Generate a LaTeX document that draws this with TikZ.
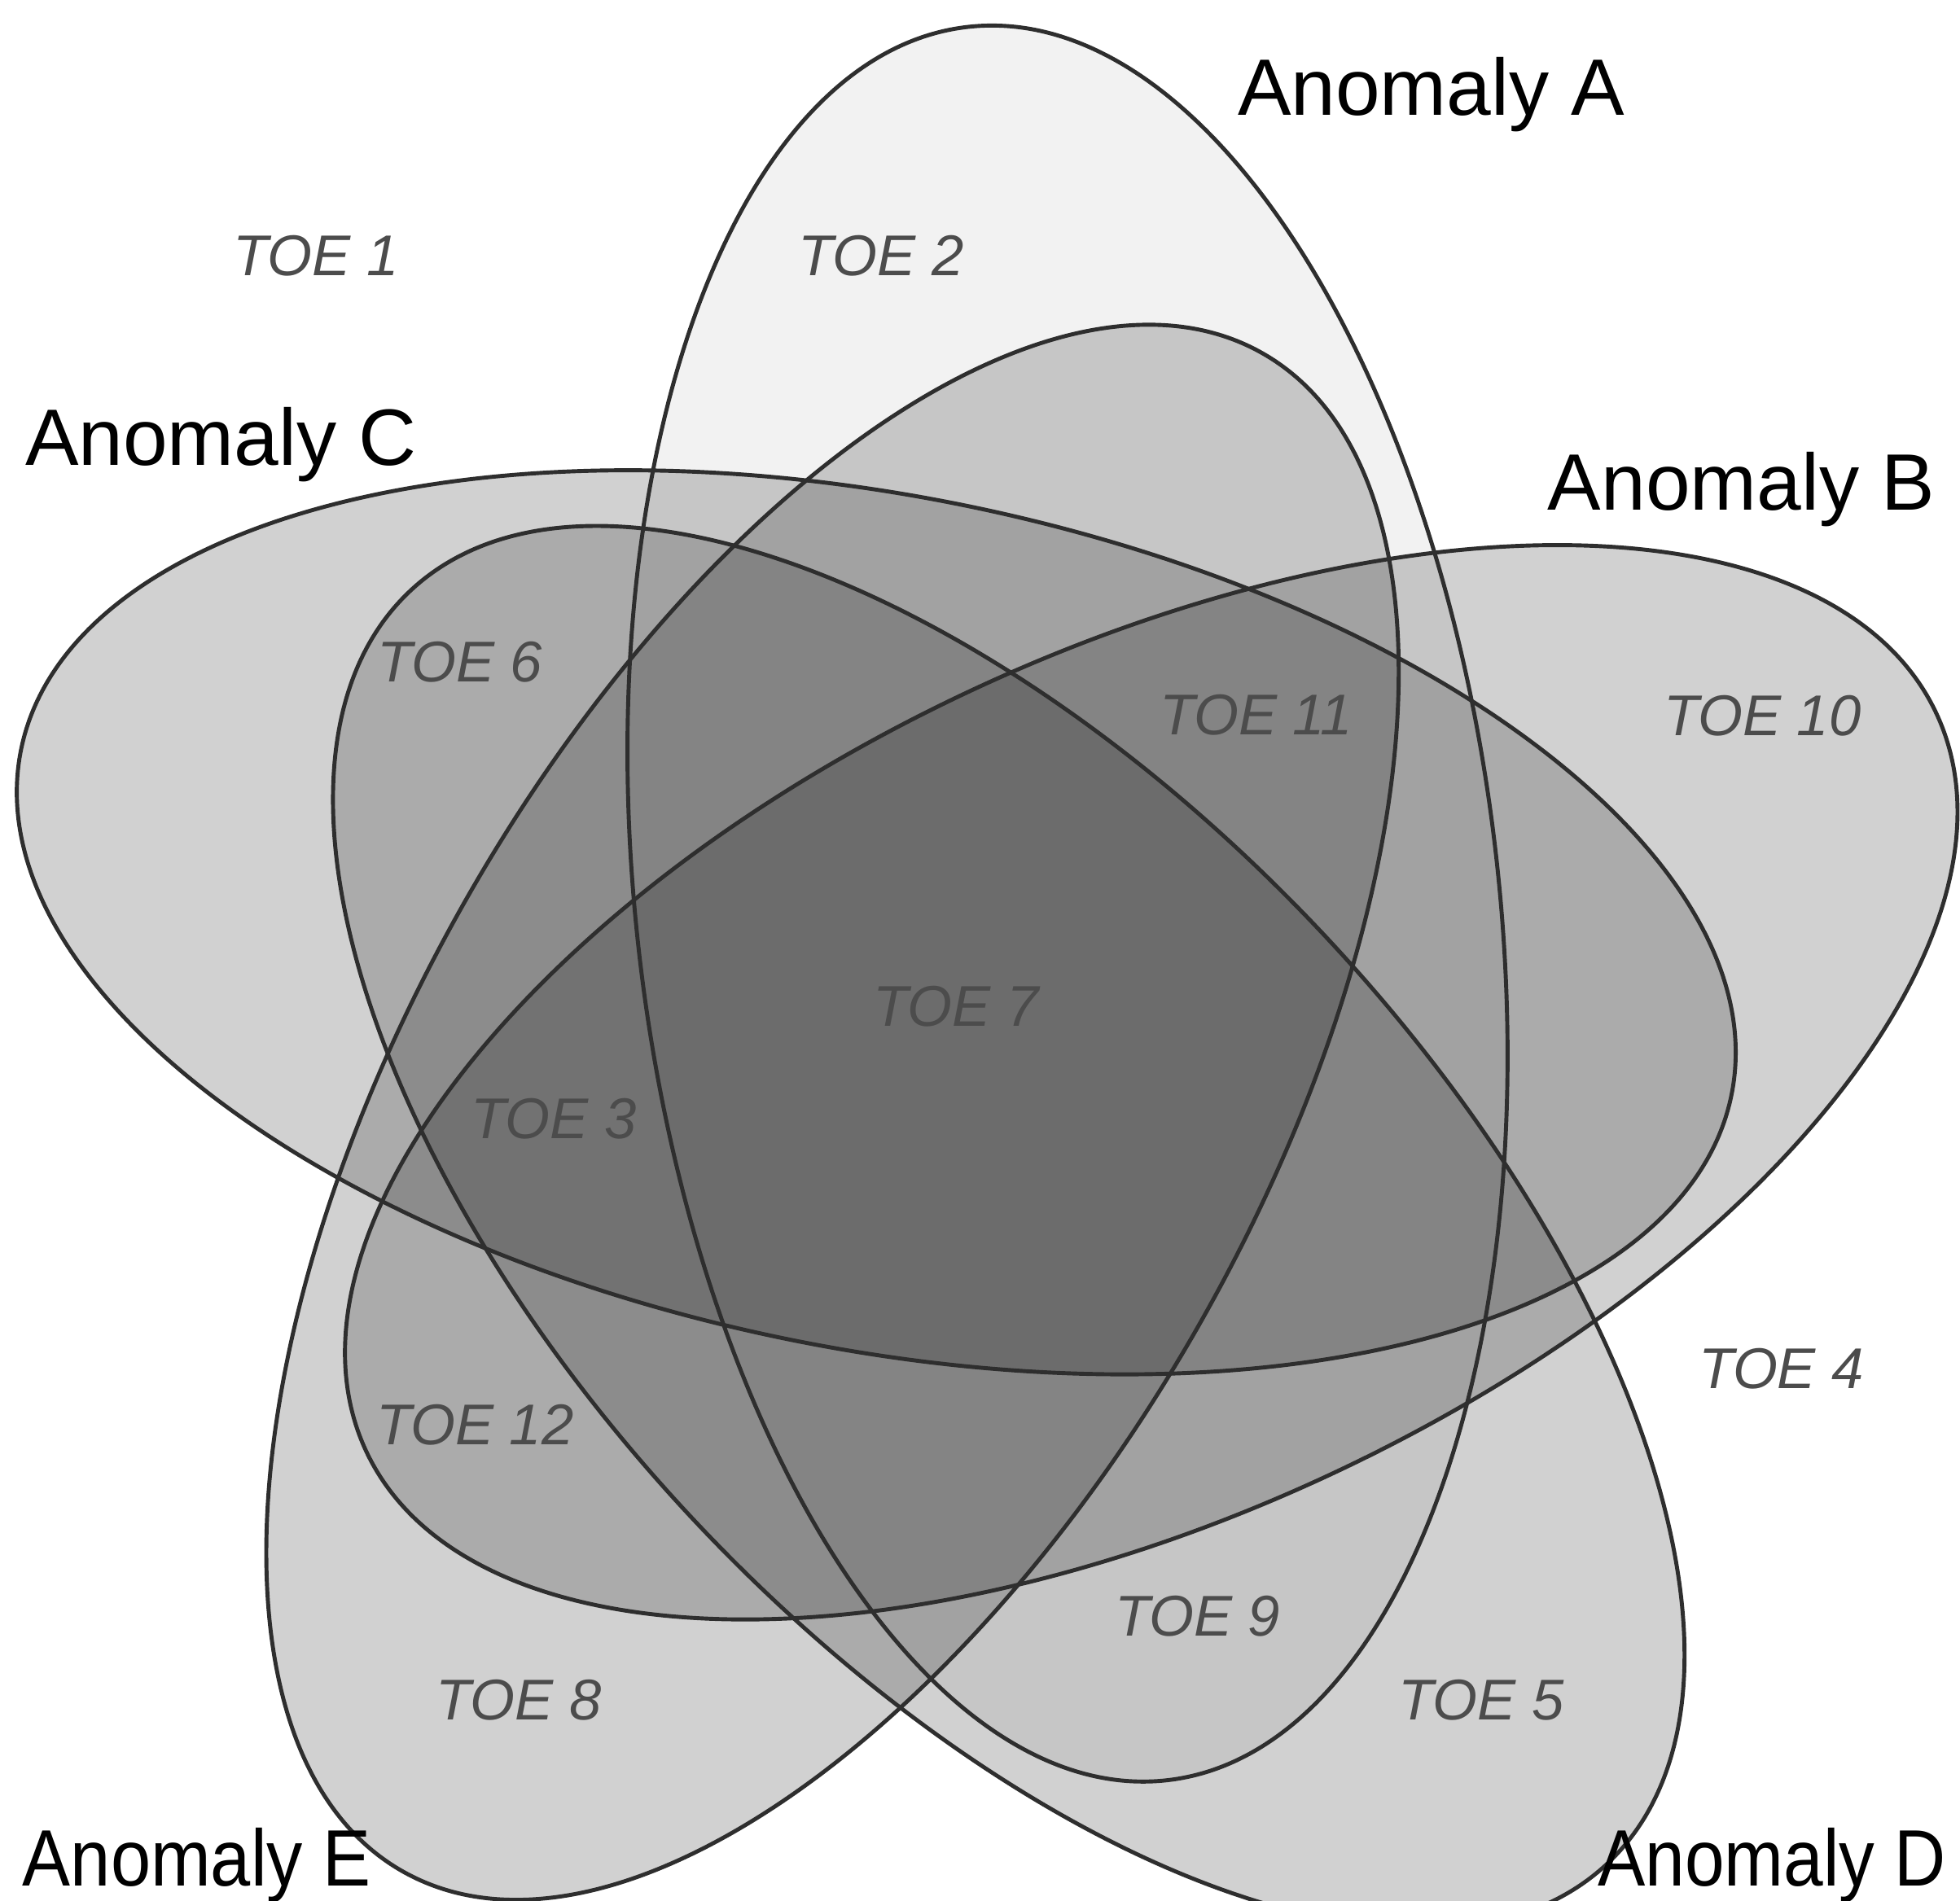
\documentclass[tikz,border=0pt]{standalone}
\usepackage{fontspec}
\setmainfont{Liberation Sans}
\begin{document}
\begin{tikzpicture}[x=1pt,y=1pt,
  darkset/.style={fill=black, fill opacity=0.18},
  lightset/.style={fill=black, fill opacity=0.05},
  outline/.style={draw=black!82, line width=3.2pt},
  setlabel/.style={inner sep=0pt, font=\fontsize{64}{70}\selectfont, text=black},
  toelabel/.style={inner sep=0pt, font=\fontsize{46}{50}\selectfont\itshape, text=black!70}]
\useasboundingbox (0,0) rectangle (1568,1521);
\fill[white] (0,0) rectangle (1568,1521);
% fills
\path[lightset, rotate around={96.5:(854,798)}] (854,798) ellipse (706 and 345);
\path[darkset, rotate around={25.2:(921,655)}] (921,655) ellipse (694 and 345);
\path[darkset, rotate around={-11.4:(701,783)}] (701,783) ellipse (698 and 341);
\path[darkset, rotate around={-46.75:(807,539)}] (807,539) ellipse (699 and 344);
\path[darkset, rotate around={60.5:(666,631)}] (666,631) ellipse (698 and 339);
% outlines
\draw[outline, rotate around={96.5:(854,798)}] (854,798) ellipse (706 and 345);
\draw[outline, rotate around={25.2:(921,655)}] (921,655) ellipse (694 and 345);
\draw[outline, rotate around={-11.4:(701,783)}] (701,783) ellipse (698 and 341);
\draw[outline, rotate around={-46.75:(807,539)}] (807,539) ellipse (699 and 344);
\draw[outline, rotate around={60.5:(666,631)}] (666,631) ellipse (698 and 339);
% set labels
\node[setlabel, anchor=base west] (labA) at (990,1429) {Anomaly A};
\node[setlabel, anchor=base west] (labC) at (20,1149) {Anomaly C};
\node[setlabel, anchor=base east] (labB) at (1548,1113) {Anomaly B};
\node[setlabel, anchor=base west, xscale=0.9] (labE) at (18,12) {Anomaly E};
\node[setlabel, anchor=base east, xscale=0.89] (labD) at (1557,12) {Anomaly D};
% region labels
\node[toelabel] (t1) at (253,1316) {TOE 1};
\node[toelabel] (t2) at (705,1316) {TOE 2};
\node[toelabel] (t6) at (368,991) {TOE 6};
\node[toelabel] (t11) at (1005,949) {TOE 11};
\node[toelabel] (t10) at (1410,948) {TOE 10};
\node[toelabel] (t7) at (765,716) {TOE 7};
\node[toelabel] (t3) at (443,626) {TOE 3};
\node[toelabel] (t4) at (1425,426) {TOE 4};
\node[toelabel] (t12) at (380,381) {TOE 12};
\node[toelabel] (t9) at (958,228) {TOE 9};
\node[toelabel] (t8) at (415,161) {TOE 8};
\node[toelabel] (t5) at (1185,161) {TOE 5};
\end{tikzpicture}
\end{document}
